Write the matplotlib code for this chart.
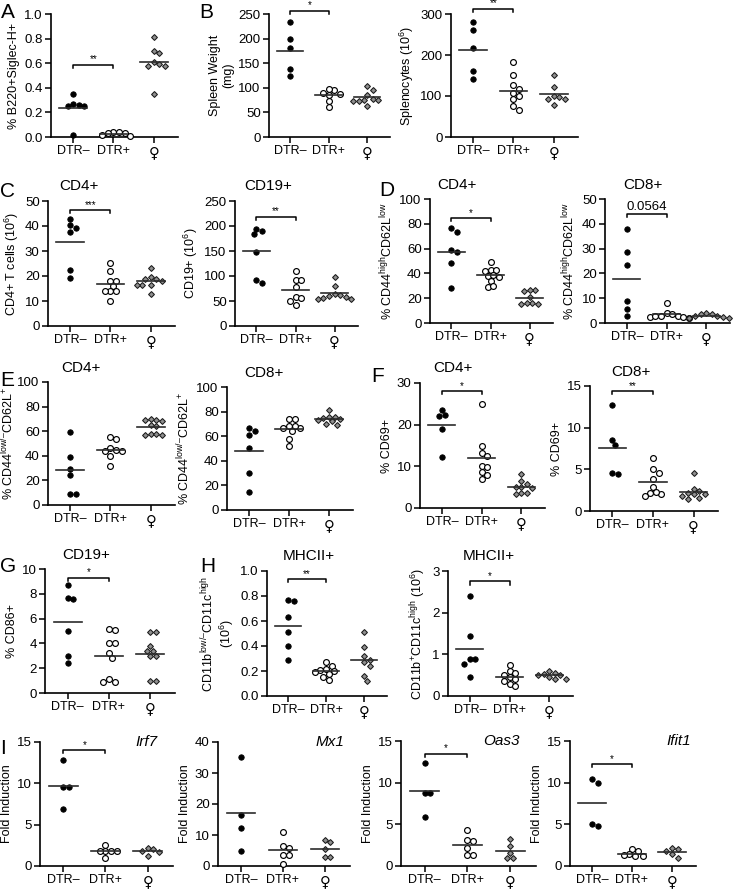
import numpy as np
import matplotlib
matplotlib.use("Agg")
import matplotlib.pyplot as plt
from matplotlib.ticker import FormatStrFormatter, MultipleLocator

plt.rcParams['font.family'] = ['Liberation Sans', 'DejaVu Sans']
plt.rcParams['mathtext.fontset'] = 'custom'
plt.rcParams['mathtext.rm'] = 'Liberation Sans'
plt.rcParams['mathtext.it'] = 'Liberation Sans:italic'
plt.rcParams['mathtext.default'] = 'regular'

groups = ["DTR\u2013", "DTR+", "\u2640"]

# A  % B220+Siglec-H+
a_neg = [0.35, 0.27, 0.25, 0.25, 0.26, 0.02]
a_pos = [0.04, 0.03, 0.02, 0.01, 0.03, 0.04]
a_fem = [0.81, 0.70, 0.68, 0.61, 0.58, 0.58, 0.59, 0.35]
# B  spleen weight (mg)
sw_neg = [234, 199, 180, 138, 123]
sw_pos = [95, 88, 86, 89, 98, 74, 61]
sw_fem = [104, 96, 86, 77, 76, 74, 74, 76, 64]
# B  splenocytes (10^6)
sp_neg = [281, 261, 218, 161, 142]
sp_pos = [182, 152, 126, 116, 108, 99, 92, 76, 67]
sp_fem = [152, 123, 99, 93, 93, 97, 78]
# C  CD4+ / CD19+
c4_neg = [42.9, 39.2, 37.6, 40.3, 22.3, 19.3]
c4_pos = [25.3, 22, 18, 18, 15.9, 13.9, 13.9, 13.9, 10]
c4_fem = [23.3, 19.6, 18.7, 18.7, 18.2, 16.5, 16.5, 16.5, 12.7]
c19_neg = [195, 185, 190, 148, 93, 87]
c19_pos = [110, 93, 93, 78, 58, 57, 50, 42]
c19_fem = [99, 80, 64, 62, 60, 58, 56, 55, 54]
# D  CD44high CD62Llow
d4_neg = [76.5, 73.3, 56.9, 59, 48.2, 28]
d4_pos = [49, 43, 42, 43, 38, 39, 37, 34, 29, 30]
d4_fem = [26.5, 27, 26, 21, 16.5, 15.5, 15.5, 16]
d8_neg = [38, 28.6, 23.2, 9, 5.7, 2.8]
d8_pos = [7.9, 4, 3.5, 3, 3, 2.5, 2.5, 2, 3]
d8_fem = [4.2, 3.8, 3.5, 3, 2.8, 2.5, 2.2, 2]
# E  CD44low CD62L+
e4_neg = [59, 39, 29, 24, 9, 9]
e4_pos = [55, 54, 46, 45, 44, 44, 40, 32]
e4_fem = [69, 68, 69, 70, 65, 64, 58, 57, 57, 58]
e8_neg = [64.4, 60.9, 66.3, 50.1, 29.9, 14.8]
e8_pos = [74, 74, 68, 67, 67, 68, 64, 58, 52]
e8_fem = [81, 76, 75, 76, 74, 73, 72, 70, 69]
# F  % CD69+
f4_neg = [23.6, 22, 22.4, 18.9, 12.2]
f4_pos = [24.9, 14.9, 13.3, 12.5, 10, 9.8, 8.6, 8, 6.9]
f4_fem = [8.2, 6.6, 5.8, 5, 5, 4.8, 3.5, 3.5, 3.3]
f8_neg = [12.7, 8.5, 7.9, 4.4, 4.6]
f8_pos = [6.4, 5.0, 4.6, 3.8, 2.9, 2.2, 1.8, 2.0, 2.3]
f8_fem = [4.6, 2.7, 2.4, 2.2, 2.0, 2.1, 1.8, 1.6, 1.5]
# G  % CD86+
g_neg = [8.7, 7.6, 7.7, 5.0, 2.95, 2.4]
g_pos = [5.2, 5.1, 4.0, 4.0, 3.2, 2.8, 1.1, 0.9, 0.9]
g_fem = [4.9, 4.9, 3.8, 3.4, 3.4, 2.95, 2.95, 1.0, 1.0]
# H  MHCII+
hl_neg = [0.76, 0.77, 0.63, 0.515, 0.40, 0.29]
hl_pos = [0.27, 0.24, 0.22, 0.21, 0.20, 0.19, 0.18, 0.15, 0.13]
hl_fem = [0.51, 0.39, 0.32, 0.29, 0.27, 0.24, 0.16, 0.12]
hr_neg = [2.4, 1.44, 0.88, 0.78, 0.88, 0.45]
hr_pos = [0.75, 0.6, 0.55, 0.5, 0.45, 0.4, 0.35, 0.3, 0.25]
hr_fem = [0.6, 0.55, 0.53, 0.5, 0.5, 0.45, 0.42, 0.4]
# I  fold induction
irf7_neg = [12.8, 9.6, 9.6, 6.9]
irf7_pos = [2.6, 1.8, 1.8, 1.8, 1.8, 1.0]
irf7_fem = [2.2, 2.1, 1.8, 1.7, 1.2]
mx1_neg = [35.2, 16.6, 12.4, 4.7]
mx1_pos = [11, 6.5, 5.8, 3.7, 3.7, 0.8]
mx1_fem = [8.3, 7.7, 5.6, 2.9, 2.9]
oas3_neg = [12.4, 8.8, 8.8, 5.9]
oas3_pos = [4.3, 3.1, 3.0, 2.2, 1.3, 1.3]
oas3_fem = [3.3, 2.4, 1.6, 1.0, 1.0]
ifit1_neg = [10.4, 10.0, 4.8, 5.0]
ifit1_pos = [2.0, 1.8, 1.4, 1.3, 1.2, 1.2]
ifit1_fem = [2.2, 2.1, 1.8, 1.5, 1.0]

W, H = 733, 889
fig = plt.figure(figsize=(W / 100, H / 100), dpi=100)


def make_ax(left, right, top, bottom):
    # pixel box -> figure fraction
    return fig.add_axes([left / W, 1 - bottom / H, (right - left) / W, (bottom - top) / H])


def swarm(ax, cat, vals, diam=5.6):
    vals = np.asarray(vals, float)
    pts = ax.transData.transform(np.column_stack([np.full(len(vals), cat), vals]))
    ypx = pts[:, 1]
    xscale = ax.transData.transform((1, 0))[0] - ax.transData.transform((0, 0))[0]
    offs = np.zeros(len(vals))
    placed = []
    for i in np.argsort(-vals):
        for k in range(40):
            cands = [0.0] if k == 0 else [k * diam / 2, -k * diam / 2]
            done = False
            for off in cands:
                if all((off - px) ** 2 + (ypx[i] - py) ** 2 >= diam ** 2 for px, py in placed):
                    offs[i] = off
                    placed.append((off, ypx[i]))
                    done = True
                    break
            if done:
                break
    return cat + offs / xscale


def panel(box, neg, pos, fem, ymax, step, ylabel, title=None, title_x=0.28,
          sig=None, fmt=None, gene=None, gene_x=0.9, lpad=3):
    ax = make_ax(*box)
    ax.set_xlim(-0.55, 2.6)
    ax.set_ylim(0, ymax)
    for s in ['top', 'right']:
        ax.spines[s].set_visible(False)
    for s in ['left', 'bottom']:
        ax.spines[s].set_linewidth(1.2)
    ax.yaxis.set_major_locator(MultipleLocator(step))
    if fmt:
        ax.yaxis.set_major_formatter(FormatStrFormatter(fmt))
    ax.set_xticks([0, 1, 2])
    ax.set_xticklabels(groups, fontsize=9)
    fem_lab = ax.get_xticklabels()[2]
    fem_lab.set_fontfamily('DejaVu Sans')
    fem_lab.set_fontsize(10.5)
    ax.tick_params(direction='out', length=4, width=1.1, pad=2)
    ax.tick_params(axis='y', labelsize=9.5)
    ax.tick_params(axis='x', pad=2)
    ax.set_ylabel(ylabel, fontsize=9, labelpad=lpad, linespacing=1.1)

    styles = [dict(marker='o', ms=3.9, mfc='black', mec='black', mew=0.6),
              dict(marker='o', ms=4.2, mfc='white', mec='black', mew=0.85),
              dict(marker='D', ms=3.0, mfc='#8f8f8f', mec='#1a1a1a', mew=0.75)]
    for cat, vals, st in zip(range(3), [neg, pos, fem], styles):
        xs = swarm(ax, cat, vals)
        ax.plot(xs, vals, ls='none', clip_on=False, zorder=3, **st)
        m = np.mean(vals)
        ax.plot([cat - 0.34, cat + 0.34], [m, m], color='#2b2b2b', lw=1.2, zorder=4)

    if sig:
        yb, label = sig
        h = ymax * 0.025
        ax.plot([0, 0, 1, 1], [yb - h, yb, yb, yb - h], color='black', lw=1.1, clip_on=False)
        if label.startswith('*'):
            ax.text(0.5, yb + ymax * 0.003, label, ha='center', va='bottom', fontsize=7)
        else:
            ax.text(0.5, yb + ymax * 0.01, label, ha='center', va='bottom', fontsize=9.5)
    if title:
        ax.text(title_x, 1.06, title, transform=ax.transAxes, ha='center', va='bottom', fontsize=11)
    if gene:
        ax.text(gene_x, 1.0, gene, transform=ax.transAxes, ha='right', va='center',
                fontsize=11, style='italic')
    return ax


sup6 = "(10$^6$)"
panel((51, 178, 14, 137), a_neg, a_pos, a_fem, 1.0, 0.2, "% B220+Siglec-H+",
      sig=(0.586, "**"), fmt='%.1f')
panel((269, 390, 14, 137), sw_neg, sw_pos, sw_fem, 250, 50, "Spleen Weight\n(mg)",
      sig=(257, "*"))
panel((451, 578, 14, 137), sp_neg, sp_pos, sp_fem, 300, 100, "Splenocytes " + sup6,
      sig=(313, "**"))

panel((48, 175, 201, 326), c4_neg, c4_pos, c4_fem, 50, 10, "CD4+ T cells " + sup6,
      title="CD4+", title_x=0.24, sig=(46.3, "***"))
panel((235, 358, 201, 326), c19_neg, c19_pos, c19_fem, 250, 50, "CD19+ " + sup6,
      title="CD19+", title_x=0.27, sig=(219, "**"))
panel((430, 553, 199, 323), d4_neg, d4_pos, d4_fem, 100, 20,
      "% CD44$^{high}$CD62L$^{low}$", title="CD4+", title_x=0.22, sig=(84.6, "*"))
panel((605, 730, 199, 323), d8_neg, d8_pos, d8_fem, 50, 10,
      "% CD44$^{high}$CD62L$^{low}$", title="CD8+", title_x=0.3, sig=(43.9, "0.0564"))

panel((48, 175, 382, 505), e4_neg, e4_pos, e4_fem, 100, 20,
      "% CD44$^{low/\u2013}$CD62L$^{+}$", title="CD4+", title_x=0.26, lpad=0.5)
panel((227, 353, 387, 510), e8_neg, e8_pos, e8_fem, 100, 20,
      "% CD44$^{low/\u2013}$CD62L$^{+}$", title="CD8+", title_x=0.29)
panel((420, 545, 383, 508), f4_neg, f4_pos, f4_fem, 30, 10, "% CD69+",
      title="CD4+", title_x=0.26, sig=(28, "*"))
panel((590, 718, 386, 511), f8_neg, f8_pos, f8_fem, 15, 5, "% CD69+",
      title="CD8+", title_x=0.32, sig=(14.4, "**"))

panel((45, 175, 569, 693), g_neg, g_pos, g_fem, 10, 2, "% CD86+",
      title="CD19+", title_x=0.32, sig=(9.3, "*"))
panel((267, 387, 571, 696), hl_neg, hl_pos, hl_fem, 1.0, 0.2,
      "CD11b$^{low/\u2013}$CD11c$^{high}$\n" + sup6, title="MHCII+", title_x=0.35,
      sig=(0.936, "**"), fmt='%.1f')
panel((448, 573, 571, 696), hr_neg, hr_pos, hr_fem, 3, 1,
      "CD11b$^{+}$CD11c$^{high}$ " + sup6, title="MHCII+", title_x=0.33, sig=(2.75, "*"))

panel((40, 173, 742, 866), irf7_neg, irf7_pos, irf7_fem, 15, 5, "Fold Induction",
      sig=(14, "*"), gene="Irf7", gene_x=0.88)
panel((218, 350, 742, 866), mx1_neg, mx1_pos, mx1_fem, 40, 10, "Fold Induction",
      gene="Mx1", gene_x=0.96)
panel((401, 536, 741, 866), oas3_neg, oas3_pos, oas3_fem, 15, 5, "Fold Induction",
      sig=(13.5, "*"), gene="Oas3", gene_x=0.88)
panel((570, 696, 741, 866), ifit1_neg, ifit1_pos, ifit1_fem, 15, 5, "Fold Induction",
      sig=(12.2, "*"), gene="Ifit1", gene_x=0.96)

# panel letters
letters = [("A", 1, 3), ("B", 199, 3), ("C", 0, 182), ("D", 379, 181), ("E", 0, 371),
           ("F", 371, 367), ("G", 0, 557), ("H", 200, 557), ("I", 0, 739)]
for lab, px, py in letters:
    fig.text(px / W, 1 - py / H, lab, ha='left', va='top', fontsize=15)

fig.savefig("out.png", dpi=100)
